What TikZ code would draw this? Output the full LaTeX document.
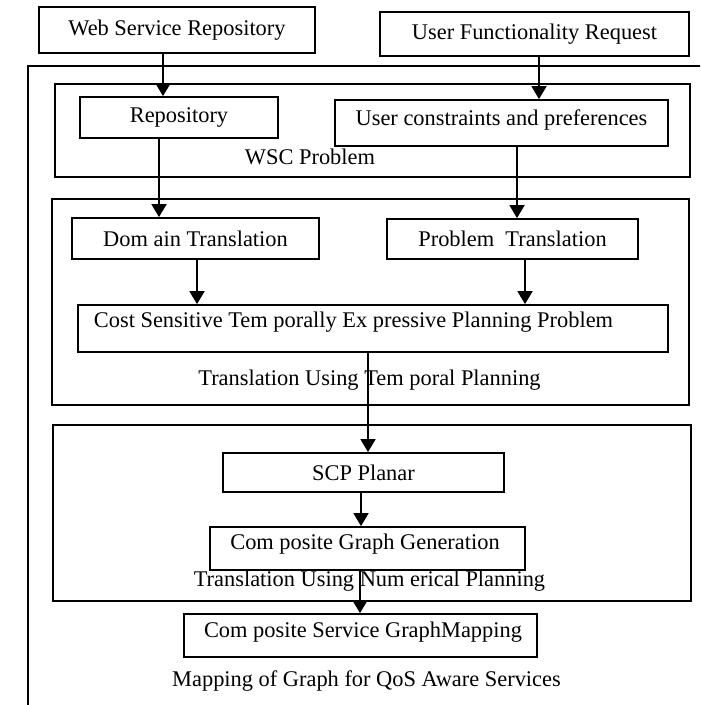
\documentclass[tikz,border=0pt]{standalone}
\usepackage{fontspec}
\setmainfont{Liberation Serif}
\usetikzlibrary{arrows.meta}
\begin{document}
\begin{tikzpicture}[x=0.5pt,y=-0.5pt,
  box/.style={draw,line width=0.9pt,inner sep=0pt,font=\fontsize{11.2}{13}\selectfont},
  frame/.style={draw,line width=0.9pt},
  lbl/.style={inner sep=0pt,font=\fontsize{11.2}{13}\selectfont},
  arr/.style={line width=0.9pt,-{Triangle[width=7.5pt,length=6.5pt]}}]
\path[use as bounding box] (0,0) rectangle (700,705);
\clip (0,0) rectangle (700,705);
% outer frame
\draw[frame] (28,720) -- (28,66) -- (720,66);
% containers
\draw[frame] (55,84) rectangle (690,177);
\draw[frame] (52,199) rectangle (689,405);
\draw[frame] (53,425) rectangle (691,601);
% boxes
\node[box,minimum width=138pt,minimum height=23pt] (wsr) at (177,30) {Web Service Repository};
\node[box,minimum width=154.5pt,minimum height=22pt] (ufr) at (534.5,34) {User Functionality Request};
\node[box,minimum width=99pt,minimum height=20.5pt] (rep) at (179,117.5) {Repository};
\node[box,minimum width=166.5pt,minimum height=23pt] (uc) at (501.5,123) {};
\node[lbl] (uct) at (501.5,120) {User constraints and preferences};
\node[lbl] (wscl) at (310,157) {WSC Problem};
\node[box,minimum width=123.5pt,minimum height=20.5pt] (dt) at (195.5,238.5) {Dom ain Translation};
\node[box,minimum width=125.5pt,minimum height=20pt] (pt) at (512.5,239) {Problem\ \ Translation};
\node[box,minimum width=295pt,minimum height=23.5pt] (cost) at (373,328.5) {};
\node[lbl] (costt) at (353.5,322) {Cost Sensitive Tem porally Ex pressive Planning Problem};
\node[lbl] (ttl) at (369.5,380) {Translation Using Tem poral Planning};
\node[box,minimum width=140.5pt,minimum height=19.5pt] (scp) at (363.5,472.5) {SCP Planar};
\node[box,minimum width=157.5pt,minimum height=21.5pt] (cgg) at (367.5,548.5) {};
\node[lbl] (cggt) at (365,544) {Com posite Graph Generation};
\node[lbl] (tnl) at (369.5,581) {Translation Using Num erical Planning};
\node[box,minimum width=176.5pt,minimum height=21.5pt] (csgm) at (360.5,635.5) {};
\node[lbl] (csgmt) at (363,632) {Com posite Service GraphMapping};
\node[lbl] (mapl) at (366.5,681) {Mapping of Graph for QoS Aware Services};
% arrows
\draw[arr] (wsr.south -| 163,0) -- (rep.north -| 163,0);
\draw[arr] (ufr.south -| 539,0) -- (uc.north -| 539,0);
\draw[arr] (rep.south -| 159,0) -- (dt.north -| 159,0);
\draw[arr] (uc.south -| 517,0) -- (pt.north -| 517,0);
\draw[arr] (dt.south -| 197,0) -- (cost.north -| 197,0);
\draw[arr] (pt.south -| 525,0) -- (cost.north -| 525,0);
\draw[arr] (cost.south -| 368,0) -- (scp.north -| 368,0);
\draw[arr] (scp.south -| 361,0) -- (cgg.north -| 361,0);
\draw[arr] (cgg.south -| 360,0) -- (csgm.north -| 360,0);
\end{tikzpicture}
\end{document}
